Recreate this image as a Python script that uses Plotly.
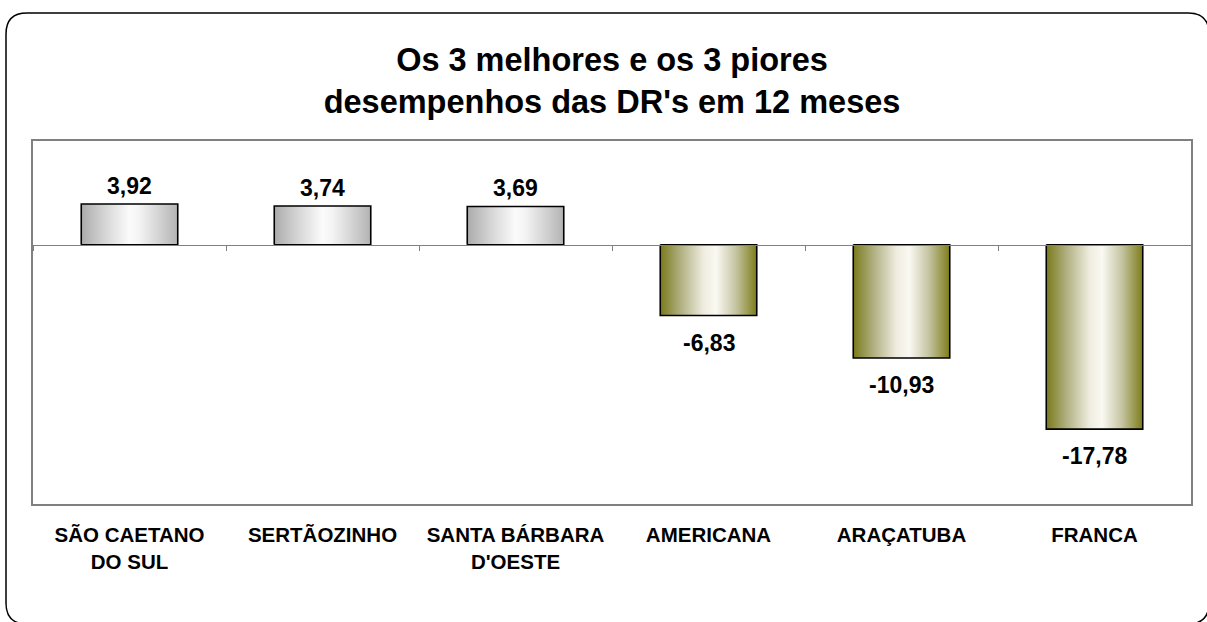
import plotly.graph_objects as go

categories = ["SÃO CAETANO<br>DO SUL", "SERTÃOZINHO", "SANTA BÁRBARA<br>D'OESTE",
              "AMERICANA", "ARAÇATUBA", "FRANCA"]
values = [3.92, 3.74, 3.69, -6.83, -10.93, -17.78]
value_labels = ["3,92", "3,74", "3,69", "-6,83", "-10,93", "-17,78"]
title_lines = ["Os 3 melhores e os 3 piores", "desempenhos das DR's em 12 meses"]

W, H = 1207, 622
L, R, T, B = 33, 1191, 141, 504
YMIN, YMAX = -25, 10
BAR_HALF = 0.25
FONT = "Liberation Sans, Arial, sans-serif"

pos_scale = [[0, "#ababab"], [0.25, "#d6d6d6"], [0.5, "#fbfbfb"], [0.6, "#f4f4f4"],
             [0.8, "#d4d4d4"], [1, "#b3b3b3"]]
neg_scale = [[0, "#7a7a1c"], [0.2, "#adad7d"], [0.45, "#efede0"], [0.58, "#faf9f2"],
             [0.78, "#c6c5a4"], [1, "#7d7d1a"]]

fig = go.Figure()

# carrier trace so the zero-line axis (x2) is drawn
fig.add_trace(go.Scatter(x=[None], y=[None], xaxis="x2", yaxis="y",
                         mode="markers", hoverinfo="skip", showlegend=False))

for i, v in enumerate(values):
    xs = [i - BAR_HALF, i + BAR_HALF, i + BAR_HALF, i - BAR_HALF, i - BAR_HALF]
    ys = [0, 0, v, v, 0]
    fig.add_trace(go.Scatter(
        x=xs, y=ys, mode="lines", fill="toself",
        fillgradient=dict(type="horizontal",
                          colorscale=pos_scale if v >= 0 else neg_scale),
        line=dict(color="black", width=1.6),
        hoverinfo="skip", showlegend=False,
    ))

for i, (v, t) in enumerate(zip(values, value_labels)):
    fig.add_annotation(
        x=i, y=v, xref="x", yref="y", text=t, showarrow=False,
        yanchor="middle", yshift=18 if v >= 0 else -27,
        font=dict(family=FONT, size=23, color="black", weight="bold"),
    )

def px(xp):
    return (xp - L) / (R - L)

def py(yp):
    return (B - yp) / (B - T)

# outer rounded frame (pixel geometry converted to paper units)
x0, x1, y0, y1, r = 6, 1209, 13, 624, 21
path = (f"M {px(x0 + r)},{py(y0)} L {px(x1 - r)},{py(y0)} "
        f"Q {px(x1)},{py(y0)} {px(x1)},{py(y0 + r)} "
        f"L {px(x1)},{py(y1 - r)} Q {px(x1)},{py(y1)} {px(x1 - r)},{py(y1)} "
        f"L {px(x0 + r)},{py(y1)} Q {px(x0)},{py(y1)} {px(x0)},{py(y1 - r)} "
        f"L {px(x0)},{py(y0 + r)} Q {px(x0)},{py(y0)} {px(x0 + r)},{py(y0)} Z")
fig.add_shape(type="path", path=path, xref="paper", yref="paper",
              line=dict(color="black", width=1.5), layer="below")

n = len(categories)
fig.update_layout(
    width=W, height=H,
    margin=dict(l=L, r=W - R, t=T, b=H - B),
    paper_bgcolor="white", plot_bgcolor="white",
    title=dict(text="<br>".join(title_lines), x=0.5, xanchor="center",
               xref="paper", y=1 - 70.5 / H, yanchor="middle", yref="container",
               font=dict(family=FONT, size=32.5, color="black", weight="bold")),
    xaxis=dict(range=[-0.5, n - 0.5], tickvals=list(range(n)), ticktext=categories,
               showgrid=False, zeroline=False, ticks="",
               showline=True, mirror=True, linecolor="#808080", linewidth=1.5,
               tickfont=dict(family=FONT, size=20.5, color="black", weight="bold"),
               ticklabelstandoff=12),
    xaxis2=dict(range=[-0.5, n - 0.5], overlaying="x", anchor="free",
                position=(0 - YMIN) / (YMAX - YMIN), side="bottom",
                tickvals=[k - 0.5 for k in range(n + 1)], ticks="outside",
                ticklen=5, tickcolor="#808080", tickwidth=1,
                showticklabels=False, showgrid=False, zeroline=False,
                showline=True, linecolor="#808080", linewidth=1),
    yaxis=dict(range=[YMIN, YMAX], showticklabels=False, showgrid=False,
               zeroline=False, ticks="", showline=True, mirror=True,
               linecolor="#808080", linewidth=1.5),
    showlegend=False,
)

fig.write_html("out.html", config={"displayModeBar": False},
               post_script="document.body.style.margin='0px';")
